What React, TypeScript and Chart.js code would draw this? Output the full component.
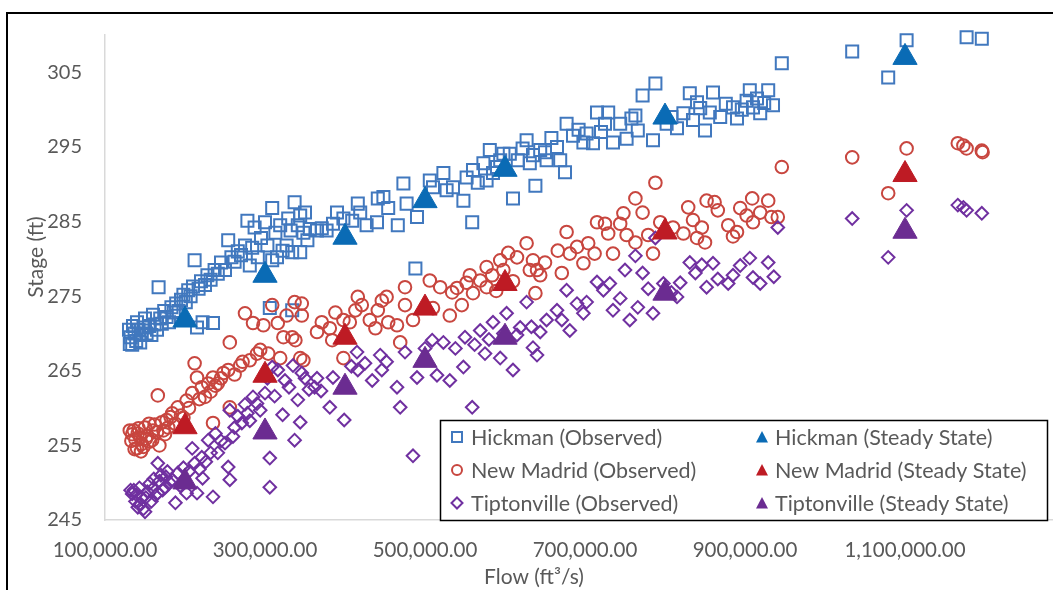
import React, { useEffect, useRef } from 'react';
import { Chart, registerables } from 'chart.js';

Chart.register(...registerables);

// ---------------- data ----------------
const xTicks = [100000, 300000, 500000, 700000, 900000, 1100000];
const yTicks = [245, 255, 265, 275, 285, 295, 305];

const steadyFlow = [200000, 300000, 400000, 500000, 600000, 800000, 1100000];
const hickmanSteady = [271.8, 277.8, 282.9, 287.8, 292.0, 299.0, 307.0];
const newMadridSteady = [257.5, 264.4, 269.5, 273.4, 276.7, 283.6, 291.3];
const tiptonvilleSteady = [250.1, 256.8, 262.8, 266.4, 269.5, 275.4, 283.7];

const hickmanObserved: [number, number][] = [
  [130000, 270.5], [131000, 268.6], [132000, 269.5], [134000, 268.5], [135000, 271.0], [137000, 270.0],
  [139000, 269.0], [140000, 271.5], [142000, 270.5], [144000, 268.8], [146000, 269.8], [148000, 270.8],
  [150000, 272.0], [152000, 270.0], [155000, 271.0], [158000, 269.8], [160000, 272.5], [162000, 271.2],
  [165000, 270.5], [167000, 276.2], [169000, 272.0], [171000, 271.3], [174000, 273.0], [177000, 272.2],
  [180000, 271.5], [183000, 273.5], [186000, 272.8], [189000, 274.0], [192000, 273.0], [195000, 274.5],
  [198000, 275.2], [201000, 274.2], [204000, 275.8], [207000, 275.0], [210000, 276.3], [212000, 279.8],
  [215000, 270.8], [217000, 276.0], [220000, 277.0], [222000, 271.5], [225000, 276.5], [228000, 277.8],
  [232000, 277.2], [235000, 271.4], [237000, 278.5], [241000, 278.0], [245000, 279.5], [250000, 278.5],
  [254000, 282.5], [258000, 280.2], [262000, 279.6], [266000, 281.0], [270000, 280.5], [275000, 281.8],
  [278000, 285.1], [281000, 279.1], [284000, 281.5], [287000, 284.2], [291000, 280.2], [295000, 282.8],
  [300000, 284.9], [303000, 281.8], [306000, 273.4], [309000, 286.8], [309000, 279.8], [313000, 283.5],
  [315000, 280.2], [319000, 284.5], [322000, 281.1], [327000, 281.8], [329000, 285.4], [332000, 283.8],
  [334000, 280.9], [334000, 273.1], [337000, 287.6], [341000, 284.5], [344000, 285.8], [344000, 280.9],
  [348000, 283.5], [350000, 286.2], [353000, 282.5], [356000, 284.0], [365000, 283.8], [371000, 284.1],
  [377000, 283.8], [385000, 284.7], [390000, 286.2], [398000, 285.4], [409000, 285.1], [416000, 287.4],
  [419000, 286.2], [427000, 284.5], [440000, 284.9], [441000, 288.1], [448000, 288.3], [454000, 286.8],
  [466000, 284.5], [473000, 290.1], [477000, 287.4], [488000, 278.7], [490000, 285.6], [506000, 290.5],
  [510000, 289.6], [523000, 291.5], [527000, 289.2], [535000, 289.6], [548000, 287.8], [552000, 290.9],
  [559000, 284.9], [560000, 291.9], [566000, 290.2], [573000, 292.8], [577000, 290.5], [581000, 294.6],
  [585000, 291.5], [590000, 292.3], [594000, 293.2], [598000, 294.1], [606000, 294.1], [610000, 288.1],
  [616000, 293.2], [622000, 294.8], [627000, 295.9], [631000, 292.8], [635000, 293.9], [638000, 289.8],
  [644000, 294.6], [650000, 294.3], [652000, 293.2], [658000, 296.2], [665000, 295.0], [669000, 293.2],
  [675000, 291.6], [677000, 298.1], [685000, 296.5], [692000, 297.3], [698000, 295.6], [702000, 296.8],
  [710000, 295.5], [715000, 299.6], [720000, 297.0], [725000, 298.1], [729000, 299.6], [735000, 295.6],
  [744000, 298.1], [752000, 296.1], [758000, 298.8], [763000, 299.2], [766000, 297.2], [772000, 301.9],
  [785000, 295.9], [788000, 303.5], [802000, 298.1], [808000, 299.0], [815000, 297.5], [823000, 299.5],
  [831000, 302.2], [835000, 298.6], [840000, 301.0], [844000, 300.2], [850000, 297.2], [856000, 299.6],
  [860000, 302.3], [869000, 299.0], [876000, 300.8], [885000, 300.3], [890000, 298.8], [896000, 300.0],
  [902000, 301.2], [906000, 302.6], [910000, 300.3], [915000, 301.5], [919000, 299.5], [924000, 300.9],
  [929000, 302.6], [935000, 300.6], [946000, 306.2], [1034000, 307.8], [1079000, 304.3], [1102000, 309.3],
  [1177000, 309.7], [1196000, 309.5],
];

const newMadridObserved: [number, number][] = [
  [131000, 257.0], [133000, 255.6], [134000, 256.5], [136000, 257.0], [137000, 254.5], [138000, 255.8],
  [140000, 254.6], [141000, 256.6], [142000, 257.3], [144000, 256.1], [145000, 254.2], [146000, 255.2],
  [148000, 254.8], [150000, 257.4], [151000, 255.9], [153000, 256.3], [155000, 257.9], [156000, 255.5],
  [159000, 255.7], [160000, 257.0], [162000, 257.8], [165000, 256.8], [166000, 261.7], [168000, 255.0],
  [171000, 258.1], [173000, 257.0], [175000, 256.5], [177000, 258.4], [179000, 257.4], [182000, 258.8],
  [184000, 259.3], [188000, 257.9], [191000, 260.1], [195000, 259.0], [198000, 258.7], [202000, 261.0],
  [205000, 260.0], [209000, 262.0], [212000, 266.0], [215000, 264.1], [218000, 261.2], [221000, 262.8],
  [225000, 261.5], [229000, 263.3], [232000, 262.2], [235000, 264.1], [235000, 258.0], [238000, 263.0],
  [241000, 263.3], [245000, 264.0], [248000, 264.7], [254000, 265.1], [256000, 268.8], [256000, 260.1],
  [262000, 264.5], [269000, 265.7], [272000, 266.2], [275000, 272.7], [281000, 266.4], [285000, 271.4],
  [290000, 267.3], [294000, 267.8], [298000, 271.1], [304000, 267.3], [309000, 273.8], [316000, 271.4],
  [319000, 266.7], [323000, 269.5], [327000, 272.4], [334000, 269.5], [337000, 274.2], [338000, 269.1],
  [344000, 266.7], [346000, 272.4], [346000, 274.0], [348000, 266.4], [365000, 270.2], [371000, 271.5],
  [381000, 270.7], [384000, 269.1], [388000, 272.8], [398000, 266.7], [398000, 271.8], [406000, 271.5],
  [413000, 273.1], [416000, 274.9], [421000, 273.8], [431000, 271.8], [438000, 270.7], [441000, 273.1],
  [446000, 274.4], [452000, 274.9], [454000, 271.5], [465000, 271.1], [469000, 268.8], [475000, 273.8],
  [475000, 276.2], [485000, 271.8], [506000, 277.1], [510000, 273.4], [519000, 276.2], [531000, 272.4],
  [534000, 275.5], [540000, 276.1], [546000, 273.8], [552000, 276.8], [556000, 277.8], [560000, 275.4],
  [569000, 277.1], [577000, 276.2], [577000, 278.9], [584000, 277.8], [589000, 275.7], [594000, 279.8],
  [598000, 278.5], [604000, 280.8], [610000, 277.0], [615000, 280.2], [627000, 282.1], [631000, 278.5],
  [635000, 279.8], [638000, 275.4], [640000, 278.5], [644000, 277.8], [650000, 279.5], [666000, 281.1],
  [671000, 278.1], [677000, 283.6], [681000, 280.7], [690000, 281.6], [698000, 279.4], [704000, 282.1],
  [712000, 280.7], [715000, 284.9], [725000, 284.7], [729000, 283.4], [735000, 280.7], [744000, 284.7],
  [748000, 286.1], [752000, 283.2], [763000, 288.1], [763000, 282.2], [772000, 286.2], [779000, 283.2],
  [785000, 280.7], [788000, 290.2], [794000, 284.9], [810000, 284.2], [823000, 283.4], [829000, 286.9],
  [835000, 285.2], [840000, 282.8], [846000, 284.2], [850000, 282.2], [852000, 287.8], [862000, 287.6],
  [866000, 286.5], [879000, 284.5], [885000, 283.0], [890000, 283.6], [894000, 286.8], [902000, 285.8],
  [909000, 288.1], [910000, 284.9], [919000, 286.2], [929000, 287.8], [933000, 285.6], [941000, 285.6],
  [946000, 292.3], [1034000, 293.6], [1079000, 288.8], [1102000, 294.8], [1166000, 295.5],
  [1173000, 295.2], [1177000, 294.8], [1196000, 294.5], [1197000, 294.3],
];

const tiptonvilleObserved: [number, number][] = [
  [132000, 249.0], [134000, 248.5], [136000, 249.0], [138000, 247.5], [139000, 248.4], [141000, 246.7],
  [143000, 249.3], [144000, 247.2], [146000, 248.0], [148000, 246.5], [150000, 246.1], [151000, 248.0],
  [153000, 248.8], [156000, 249.9], [158000, 247.5], [160000, 249.2], [161000, 250.5], [163000, 248.3],
  [166000, 252.6], [166000, 248.6], [168000, 250.2], [170000, 251.0], [172000, 249.0], [175000, 249.4],
  [176000, 250.8], [178000, 251.5], [181000, 250.0], [184000, 250.4], [188000, 247.3], [191000, 251.3],
  [194000, 249.6], [198000, 252.0], [202000, 248.6], [205000, 251.5], [209000, 254.6], [212000, 252.6],
  [215000, 248.6], [218000, 251.8], [221000, 253.4], [222000, 250.6], [226000, 252.8], [229000, 255.7],
  [232000, 254.0], [235000, 248.1], [238000, 256.6], [241000, 254.0], [245000, 255.6], [250000, 255.3],
  [254000, 252.1], [256000, 259.7], [256000, 250.4], [260000, 256.2], [262000, 257.4], [266000, 258.9],
  [271000, 258.0], [275000, 260.5], [278000, 259.3], [281000, 258.3], [285000, 261.5], [290000, 260.6],
  [294000, 259.7], [300000, 262.0], [303000, 264.0], [306000, 253.3], [306000, 249.4], [309000, 265.5],
  [312000, 261.6], [316000, 265.1], [322000, 259.1], [325000, 263.7], [330000, 262.8], [335000, 265.7],
  [337000, 255.7], [341000, 261.1], [344000, 258.1], [346000, 264.7], [350000, 264.0], [355000, 262.5],
  [362000, 262.8], [365000, 264.0], [370000, 262.3], [381000, 260.1], [385000, 264.1], [399000, 258.4],
  [408000, 265.6], [415000, 267.5], [416000, 265.1], [425000, 266.0], [434000, 263.7], [444000, 267.1],
  [446000, 265.1], [452000, 266.2], [465000, 262.8], [469000, 260.1], [475000, 267.5], [485000, 253.6],
  [490000, 264.1], [500000, 268.0], [509000, 269.1], [515000, 264.4], [523000, 268.8], [531000, 263.7],
  [538000, 268.0], [548000, 265.5], [550000, 269.5], [559000, 260.1], [562000, 268.5], [569000, 270.4],
  [575000, 267.3], [580000, 269.2], [585000, 271.5], [594000, 266.7], [598000, 270.0], [602000, 272.7],
  [610000, 265.1], [615000, 269.8], [619000, 270.8], [627000, 274.2], [633000, 270.9], [635000, 268.1],
  [640000, 267.1], [644000, 270.2], [652000, 271.8], [665000, 273.1], [671000, 271.8], [677000, 275.8],
  [681000, 270.4], [690000, 274.0], [698000, 272.7], [702000, 274.2], [715000, 276.9], [723000, 275.8],
  [731000, 276.7], [735000, 273.1], [744000, 274.7], [750000, 278.5], [756000, 271.8], [763000, 280.4],
  [766000, 273.5], [772000, 278.1], [779000, 276.0], [785000, 272.7], [788000, 282.8], [798000, 276.7],
  [808000, 275.5], [815000, 274.9], [819000, 276.8], [831000, 279.5], [838000, 278.1], [846000, 279.2],
  [852000, 276.2], [860000, 279.4], [866000, 277.3], [879000, 276.7], [885000, 277.8], [894000, 279.1],
  [906000, 280.1], [910000, 277.5], [919000, 276.7], [929000, 279.5], [936000, 277.6], [941000, 284.2],
  [1034000, 285.4], [1079000, 280.2], [1102000, 286.5], [1166000, 287.2], [1173000, 286.9],
  [1177000, 286.5], [1196000, 286.1],
];

// ---------------- styling ----------------
const FONT = 'Lato, "Open Sans", sans-serif';
const TEXT = '#595959';
const COLORS = {
  hickObs: '#4178BE',
  hickSS: '#0A6BB5',
  nmObs: '#C8463F',
  nmSS: '#BE1B24',
  tipObs: '#7030A0',
  tipSS: '#6B2C91',
};

function drawLegendMarker(ctx: CanvasRenderingContext2D, kind: string, x: number, y: number, color: string) {
  ctx.save();
  ctx.strokeStyle = color;
  ctx.fillStyle = color;
  ctx.lineWidth = 2;
  ctx.beginPath();
  if (kind === 'rect') {
    ctx.rect(x - 5, y - 5, 10, 10);
    ctx.stroke();
  } else if (kind === 'circle') {
    ctx.arc(x, y, 5, 0, Math.PI * 2);
    ctx.stroke();
  } else if (kind === 'rectRot') {
    ctx.moveTo(x, y - 5.5);
    ctx.lineTo(x + 5.5, y);
    ctx.lineTo(x, y + 5.5);
    ctx.lineTo(x - 5.5, y);
    ctx.closePath();
    ctx.stroke();
  } else {
    ctx.moveTo(x, y - 6);
    ctx.lineTo(x + 6, y + 5.5);
    ctx.lineTo(x - 6, y + 5.5);
    ctx.closePath();
    ctx.fill();
  }
  ctx.restore();
}

const overlayPlugin = {
  id: 'overlay',
  afterDraw(chart: any) {
    const ctx: CanvasRenderingContext2D = chart.ctx;
    ctx.save();
    // axis titles
    ctx.fillStyle = TEXT;
    ctx.font = `21px ${FONT}`;
    ctx.textAlign = 'center';
    ctx.textBaseline = 'middle';
    ctx.fillText('Flow (ft\u00B3/s)', 534, 577);
    ctx.save();
    ctx.translate(36, 257);
    ctx.rotate(-Math.PI / 2);
    ctx.fillText('Stage (ft)', 0, 0);
    ctx.restore();

    // legend box
    const bx = 440.5, by = 420.5, bw = 607, bh = 100;
    ctx.fillStyle = '#ffffff';
    ctx.fillRect(bx, by, bw, bh);
    ctx.strokeStyle = '#000000';
    ctx.lineWidth = 1.5;
    ctx.strokeRect(bx, by, bw, bh);

    const ds = chart.data.datasets;
    const rows = [437, 470, 503];
    const cols = [{ m: 457, t: 471 }, { m: 762, t: 775 }];
    ctx.font = `21.5px ${FONT}`;
    ctx.textAlign = 'left';
    ctx.textBaseline = 'middle';
    for (let r = 0; r < 3; r++) {
      for (let c = 0; c < 2; c++) {
        const d = ds[c * 3 + r];
        drawLegendMarker(ctx, d.pointStyle, cols[c].m, rows[r], d.pointBorderColor);
        ctx.fillStyle = TEXT;
        ctx.fillText(d.label, cols[c].t, rows[r] + 1);
      }
    }
    ctx.restore();
  },
};

const toPoints = (arr: [number, number][]) => arr.map(([x, y]) => ({ x, y }));
const zipPoints = (xs: number[], ys: number[]) => xs.map((x, i) => ({ x, y: ys[i] }));

export default function App() {
  const ref = useRef<HTMLCanvasElement>(null);

  useEffect(() => {
    if (!ref.current) return;
    const observed = (label: string, pts: [number, number][], style: string, radius: number, color: string, order: number) => ({
      label,
      data: toPoints(pts),
      pointStyle: style,
      pointRadius: radius,
      pointHoverRadius: radius,
      pointBorderColor: color,
      pointBackgroundColor: 'rgba(0,0,0,0)',
      pointBorderWidth: 2,
      borderColor: color,
      backgroundColor: 'rgba(0,0,0,0)',
      showLine: false,
      clip: false,
      order,
    });
    const steady = (label: string, ys: number[], color: string, order: number) => ({
      label,
      data: zipPoints(steadyFlow, ys),
      pointStyle: 'triangle',
      pointRadius: 14,
      pointHoverRadius: 14,
      pointBorderColor: color,
      pointBackgroundColor: color,
      pointBorderWidth: 1,
      borderColor: color,
      backgroundColor: color,
      showLine: false,
      clip: false,
      order,
    });

    const chart = new Chart(ref.current, {
      type: 'scatter',
      data: {
        datasets: [
          observed('Hickman (Observed)', hickmanObserved, 'rect', 8.5, COLORS.hickObs, 6),
          observed('New Madrid (Observed)', newMadridObserved, 'circle', 6.3, COLORS.nmObs, 5),
          observed('Tiptonville (Observed)', tiptonvilleObserved, 'rectRot', 6.3, COLORS.tipObs, 4),
          steady('Hickman (Steady State)', hickmanSteady, COLORS.hickSS, 3),
          steady('New Madrid (Steady State)', newMadridSteady, COLORS.nmSS, 2),
          steady('Tiptonville (Steady State)', tiptonvilleSteady, COLORS.tipSS, 1),
        ] as any,
      },
      options: {
        animation: false,
        responsive: false,
        maintainAspectRatio: false,
        layout: { padding: { left: 0, top: 35, right: 35, bottom: 0 } },
        plugins: {
          legend: { display: false },
          tooltip: { enabled: false },
          title: { display: false },
        },
        scales: {
          x: {
            type: 'linear',
            min: 100000,
            max: 1300000,
            grid: { display: false, drawTicks: false },
            border: { display: true, color: '#D9D9D9', width: 1.5 },
            afterBuildTicks: (scale: any) => {
              scale.ticks = xTicks.map((v) => ({ value: v }));
            },
            afterFit: (scale: any) => {
              scale.height = 80;
            },
            ticks: {
              autoSkip: false,
              maxRotation: 0,
              minRotation: 0,
              padding: 18,
              color: TEXT,
              font: { family: FONT, size: 20.5 },
              callback: (v: any) =>
                Number(v).toLocaleString('en-US', { minimumFractionDigits: 2, maximumFractionDigits: 2 }),
            },
          },
          y: {
            type: 'linear',
            min: 245,
            max: 310,
            grid: { display: false, drawTicks: false },
            border: { display: true, color: '#D9D9D9', width: 1.5 },
            afterBuildTicks: (scale: any) => {
              scale.ticks = yTicks.map((v) => ({ value: v }));
            },
            afterFit: (scale: any) => {
              scale.width = 105;
            },
            ticks: {
              autoSkip: false,
              padding: 23,
              color: TEXT,
              font: { family: FONT, size: 20 },
              callback: (v: any) => String(v),
            },
          },
        },
      },
      plugins: [overlayPlugin],
    } as any);
    return () => chart.destroy();
  }, []);

  return (
    <div
      style={{
        position: 'absolute',
        left: 0,
        top: 0,
        width: 1053,
        height: 590,
        overflow: 'hidden',
        background: '#ffffff',
      }}
    >
      <div
        style={{
          position: 'absolute',
          left: 6,
          top: 12,
          width: 1200,
          height: 700,
          borderLeft: '2px solid #000',
          borderTop: '2px solid #000',
        }}
      />
      <canvas
        ref={ref}
        width={1100}
        height={600}
        style={{ position: 'absolute', left: 0, top: 0, width: 1100, height: 600 }}
      />
    </div>
  );
}
